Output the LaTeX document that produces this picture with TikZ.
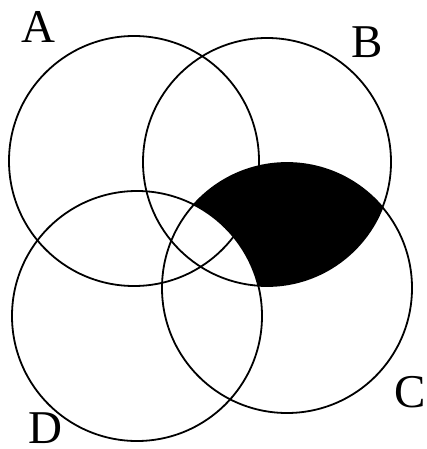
\documentclass[tikz,border=0pt]{standalone}
\usepackage{fontspec}
\setmainfont{Liberation Serif}
\usetikzlibrary{positioning}
\tikzset{
  setline/.style={line width=1.8pt},
  setlabel/.style={inner sep=0pt, font=\fontsize{47}{47}\selectfont}
}

\begin{document}
\begin{tikzpicture}[x=1pt, y=-1pt]
  \useasboundingbox (0,0) rectangle (426,449);
  \coordinate (cA) at (134,161);
  \coordinate (cB) at (267,162);
  \coordinate (cC) at (287,288);
  \coordinate (cD) at (137,316);
  % shaded part: B and C, not D
  \begin{scope}
    \clip (cB) circle[radius=124pt];
    \clip (cC) circle[radius=125pt];
    \fill[black] (0,0) rectangle (426,449);
    \fill[white] (cD) circle[radius=125pt];
  \end{scope}
  \draw[setline] (cA) circle[radius=125pt];
  \draw[setline] (cB) circle[radius=124pt];
  \draw[setline] (cC) circle[radius=125pt];
  \draw[setline] (cD) circle[radius=125pt];
  \node[setlabel] (labA) at (38,27) {A};
  \node[setlabel] (labB) at (367,42) {B};
  \node[setlabel] (labC) at (410,392) {C};
  \node[setlabel] (labD) at (45,428) {D};
\end{tikzpicture}
\end{document}
